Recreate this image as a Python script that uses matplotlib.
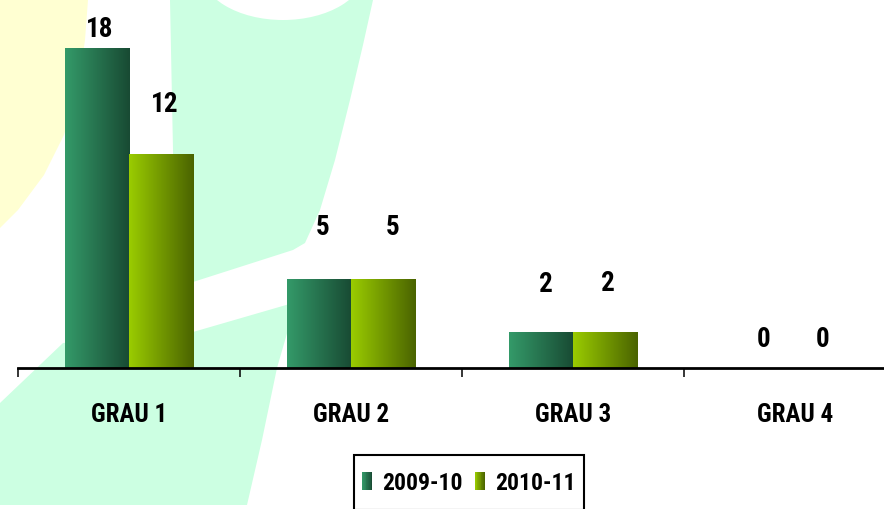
import matplotlib

matplotlib.use("Agg")
import matplotlib.font_manager as fm
import matplotlib.pyplot as plt
import numpy as np
from matplotlib.colors import LinearSegmentedColormap
from matplotlib.legend_handler import HandlerBase
from matplotlib.patches import Ellipse, Polygon, Rectangle

# ---- data ------------------------------------------------------------------
CATEGORIES = ["GRAU 1", "GRAU 2", "GRAU 3", "GRAU 4"]
SERIES = ["2009-10", "2010-11"]
VALUES_2009_10 = [18, 5, 2, 0]
VALUES_2010_11 = [12, 5, 2, 0]

# ---- style -----------------------------------------------------------------
GRAD_DARK = ("#349a69", "#184a33")   # 2009-10: green -> deep green
GRAD_LIME = ("#9acc00", "#4a6300")   # 2010-11: lime -> olive
MINT = "#ccffe2"
PALE_YELLOW = "#ffffd2"

# value-label nudges in pixels (dx from bar centre, dy from bar top to baseline)
LABEL_DX = [[3, 4], [4, 9], [5, 3], [1, -5]]
LABEL_DY = [[11, 42], [44, 44], [40, 41], [21, 21]]

W, H = 884, 509
_CANDIDATES = ["Liberation Sans Narrow", "Roboto Condensed", "DejaVu Sans"]
available = {f.name for f in fm.fontManager.ttflist}
FAMILY = next((f for f in _CANDIDATES if f in available), "DejaVu Sans")
plt.rcParams["font.family"] = [FAMILY, "DejaVu Sans"]
plt.rcParams["font.weight"] = "bold"
plt.rcParams["font.stretch"] = "condensed"


class GradientHandle:
    def __init__(self, colors):
        self.colors = colors


class HandlerGradient(HandlerBase):
    """Legend key as a narrow horizontal-gradient block sitting on the baseline."""

    def create_artists(self, legend, orig_handle, xdescent, ydescent, width, height, fontsize, trans):
        cmap = LinearSegmentedColormap.from_list("g", orig_handle.colors)
        n = 12
        step = width / n
        arts = []
        for i in range(n):
            arts.append(Rectangle(
                (-xdescent + i * step, 0), step * 1.05, 0.74 * fontsize,
                facecolor=cmap((i + 0.5) / n), edgecolor="none", transform=trans,
            ))
        return arts


fig = plt.figure(figsize=(W / 100, H / 100), dpi=100)
fig.patch.set_facecolor("white")

# ---- decorative background (pixel coords, y down) --------------------------
bg = fig.add_axes((0, 0, 1, 1), zorder=0)
bg.set_xlim(0, W)
bg.set_ylim(H, 0)
bg.axis("off")
bg.add_patch(Polygon(
    [(0, 0), (88, 0), (85, 40), (78, 90), (64, 135), (44, 175), (18, 210), (0, 228)],
    closed=True, facecolor=PALE_YELLOW, edgecolor="none",
))
bg.add_patch(Polygon(
    [(170, 0), (373, 0), (363, 45), (350, 100), (335, 160), (320, 210), (305, 243),
     (293, 250), (193, 282), (175, 288), (173, 150)],
    closed=True, facecolor=MINT, edgecolor="none",
))
bg.add_patch(Ellipse((283, -30), 165, 100, facecolor="white", edgecolor="none"))
bg.add_patch(Polygon(
    [(0, 403), (63, 343), (193, 332), (293, 303), (288, 330), (277, 368),
     (262, 440), (247, 505), (0, 505)],
    closed=True, facecolor=MINT, edgecolor="none",
))

# ---- main axes --------------------------------------------------------------
ax = fig.add_axes((18 / W, (H - 368) / H, 888 / W, 356 / H), zorder=1)
ax.set_facecolor("none")

x = np.arange(len(CATEGORIES))
bw = 0.29
series = [(VALUES_2009_10, GRAD_DARK, -bw / 2), (VALUES_2010_11, GRAD_LIME, bw / 2)]
grad = np.linspace(0, 1, 256)[None, :]
for s, (vals, cols, off) in enumerate(series):
    bars = ax.bar(x + off, vals, width=bw, facecolor="none", edgecolor="none", zorder=2)
    cmap = LinearSegmentedColormap.from_list(f"s{s}", cols)
    for i, p in enumerate(bars.patches):
        h = p.get_height()
        if h > 0:
            x0 = p.get_x()
            im = ax.imshow(grad, cmap=cmap, extent=(x0, x0 + p.get_width(), 0, h),
                           aspect="auto", interpolation="bilinear", zorder=2)
            im.set_clip_path(p)
        ax.annotate(
            f"{vals[i]}", xy=(x[i] + off, vals[i]), xytext=(LABEL_DX[i][s], LABEL_DY[i][s]),
            textcoords="offset pixels", ha="center", va="baseline",
            fontsize=19.5, fontweight="bold", color="black", zorder=4,
        )

ax.set_xlim(-0.5, len(CATEGORIES) - 0.5)
ax.set_ylim(0, 20)
ax.set_yticks([])
ax.set_xticks(x, CATEGORIES)
ax.set_xticks(np.arange(-0.5, len(CATEGORIES), 1.0), minor=True)
ax.tick_params(axis="x", which="major", length=0, pad=25, labelsize=18, colors="black")
ax.tick_params(axis="x", which="minor", length=6.5, width=1.1, direction="out", color="black")
for side in ("top", "left", "right"):
    ax.spines[side].set_visible(False)
ax.spines["bottom"].set_linewidth(2)
ax.spines["bottom"].set_color("black")
ax.spines["bottom"].set_zorder(3)

leg = fig.legend(
    [GradientHandle(GRAD_DARK), GradientHandle(GRAD_LIME)], SERIES,
    handler_map={GradientHandle: HandlerGradient()},
    loc="upper left", bbox_to_anchor=(354 / W, 1 - 455 / H), bbox_transform=fig.transFigure,
    borderaxespad=0, ncol=2, frameon=True, fancybox=False, edgecolor="black",
    facecolor="white", framealpha=1, handlelength=0.42, handleheight=2.1,
    handletextpad=0.44, columnspacing=0.5, borderpad=0.35,
    prop=dict(family=[FAMILY, "DejaVu Sans"], weight="bold", size=17),
)
leg.get_frame().set_linewidth(1.5)

fig.savefig("out.png", dpi=100, facecolor="white")
